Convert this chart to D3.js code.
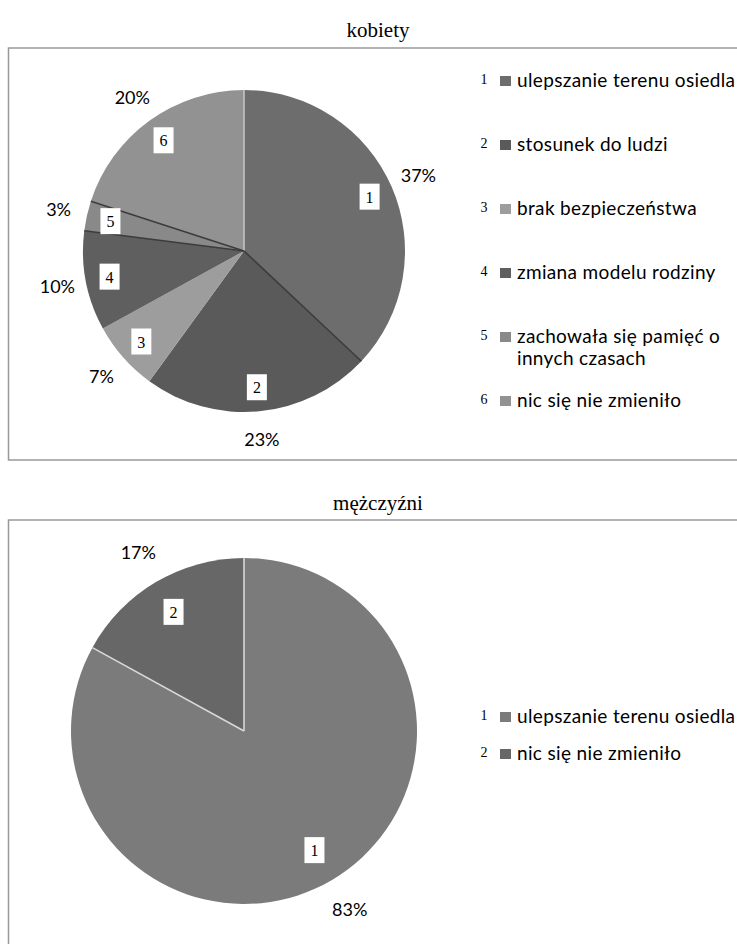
<!DOCTYPE html>
<html>
<head>
<meta charset="utf-8">
<script src="https://cdn.jsdelivr.net/npm/d3@7"></script>
<style>
  html, body { margin: 0; padding: 0; background: #fff; }
  svg { display: block; }
</style>
</head>
<body>
<svg id="chart" width="737" height="944"></svg>
<script>
// ---------- data ----------
const femaleTitle = "kobiety";
const femaleCategories = ["ulepszanie terenu osiedla", "stosunek do ludzi", "brak bezpieczeństwa", "zmiana modelu rodziny", "zachowała się pamięć o innych czasach", "nic się nie zmieniło"];
const femaleValues = [37, 23, 7, 10, 3, 20];

const maleTitle = "mężczyźni";
const maleCategories = ["ulepszanie terenu osiedla", "nic się nie zmieniło"];
const maleValues = [83, 17];

// ---------- style ----------
const femaleColors = ["#6d6d6d", "#5a5a5a", "#9d9d9d", "#5f5f5f", "#898989", "#929292"];
const femaleEdges  = ["#c4c4c4", "#3c3c3c", null, null, "#3c3c3c", "#3c3c3c"]; // line at start of each slice
const maleColors   = ["#7b7b7b", "#676767"];
const maleEdges    = ["#d8d8d8", "#d8d8d8"];

const svg = d3.select("#chart");
const sansFont = "Lato, 'Liberation Sans', sans-serif";
const serifFont = "'Liberation Serif', 'Times New Roman', serif";

function drawChart(cfg) {
  const g = svg.append("g");
  // title
  g.append("text")
    .attr("x", 378).attr("y", cfg.titleY)
    .attr("text-anchor", "middle")
    .attr("font-family", serifFont)
    .attr("font-size", cfg.titleSize)
    .attr("fill", "#000")
    .text(cfg.title);
  // frame
  g.append("rect")
    .attr("x", 8.5).attr("y", cfg.boxTop)
    .attr("width", 760).attr("height", cfg.boxHeight)
    .attr("fill", "none").attr("stroke", "#999").attr("stroke-width", 1.5);

  const pie = d3.pie().sort(null).value(d => d)(cfg.values);
  const r = cfg.r;
  const arc = d3.arc().innerRadius(0).outerRadius(r);
  const pg = g.append("g").attr("transform", `translate(${cfg.cx},${cfg.cy})`);

  pg.selectAll("path.slice").data(pie).join("path")
    .attr("class", "slice")
    .attr("d", arc)
    .attr("fill", (d, i) => cfg.colors[i]);

  // slice separator lines
  const edgeData = pie.filter((d, i) => cfg.edges[i]);
  pg.selectAll("line.edge").data(edgeData).join("line")
    .attr("class", "edge")
    .attr("x1", 0).attr("y1", 0)
    .attr("x2", d => Math.sin(d.startAngle) * r)
    .attr("y2", d => -Math.cos(d.startAngle) * r)
    .attr("stroke", d => cfg.edges[d.index])
    .attr("stroke-width", 1.6);

  // number boxes inside slices
  const inArc = d3.arc().innerRadius(r * cfg.inK).outerRadius(r * cfg.inK);
  const nb = pg.selectAll("g.num").data(pie).join("g")
    .attr("class", "num")
    .attr("transform", d => `translate(${inArc.centroid(d)})`);
  nb.append("rect")
    .attr("x", -10).attr("y", -13).attr("width", 20).attr("height", 26)
    .attr("fill", "#fff");
  nb.append("text")
    .attr("text-anchor", "middle")
    .attr("y", 6)
    .attr("font-family", serifFont)
    .attr("font-size", 16)
    .attr("fill", "#000")
    .text(d => d.index + 1);

  // percentage labels outside
  const outArc = d3.arc().innerRadius(r * cfg.outK).outerRadius(r * cfg.outK);
  pg.selectAll("text.pct").data(pie).join("text")
    .attr("class", "pct")
    .attr("transform", d => `translate(${outArc.centroid(d)})`)
    .attr("text-anchor", "middle")
    .attr("dy", "0.35em")
    .attr("font-family", sansFont)
    .attr("font-size", 18)
    .attr("fill", "#000")
    .text(d => d.data + "%");

  // legend
  const ly = d3.scalePoint().domain(d3.range(cfg.categories.length)).range(cfg.legendRange);
  const lg = g.selectAll("g.leg").data(cfg.categories).join("g")
    .attr("class", "leg")
    .attr("transform", (d, i) => `translate(0,${ly(i)})`);
  lg.append("text")
    .attr("x", 484).attr("y", 3)
    .attr("text-anchor", "middle")
    .attr("font-family", serifFont)
    .attr("font-size", 14)
    .attr("fill", "#000")
    .text((d, i) => i + 1);
  lg.append("rect")
    .attr("x", 500).attr("y", -5).attr("width", 11).attr("height", 10)
    .attr("fill", (d, i) => cfg.colors[i]);
  lg.each(function(label) {
    const t = d3.select(this).append("text")
      .attr("x", 517).attr("y", 6)
      .attr("font-family", sansFont)
      .attr("font-size", 19)
      .attr("letter-spacing", 0.35)
      .attr("fill", "#000");
    // simple word wrap
    const words = label.split(" ");
    let line = [];
    let ts = t.append("tspan").attr("x", 517).attr("dy", 0);
    words.forEach(w => {
      line.push(w);
      ts.text(line.join(" "));
      if (ts.node().getComputedTextLength() > 222 && line.length > 1) {
        line.pop();
        ts.text(line.join(" "));
        line = [w];
        ts = t.append("tspan").attr("x", 517).attr("dy", 22).text(w);
      }
    });
  });
}

drawChart({
  title: femaleTitle, titleY: 37, titleSize: 21,
  boxTop: 48, boxHeight: 412,
  values: femaleValues, categories: femaleCategories,
  colors: femaleColors, edges: femaleEdges,
  cx: 244, cy: 251, r: 161, inK: 0.85, outK: 1.18,
  legendRange: [81, 401]
});

drawChart({
  title: maleTitle, titleY: 510, titleSize: 21,
  boxTop: 520, boxHeight: 500,
  values: maleValues, categories: maleCategories,
  colors: maleColors, edges: maleEdges,
  cx: 244, cy: 731, r: 173, inK: 0.8, outK: 1.2,
  legendRange: [717, 754]
});
</script>
</body>
</html>
